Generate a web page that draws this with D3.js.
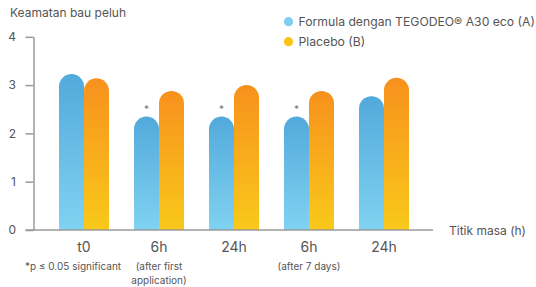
<!DOCTYPE html>
<html>
<head>
<meta charset="utf-8">
<script src="https://cdn.jsdelivr.net/npm/d3@7"></script>
<style>
  body { margin: 0; background: #fff; }
  svg { display: block; font-family: Inter, 'Noto Sans', sans-serif; }
</style>
</head>
<body>
<svg></svg>
<script>
const width = 536;
const height = 287;

// data
const categories = ['t0', '6h', '24h', '6h', '24h'];
const subLabels = [[], ['(after first', 'application)'], [], ['(after 7 days)'], []];
const seriesNames = ['Formula dengan TEGODEO® A30 eco (A)', 'Placebo (B)'];
const seriesA = [3.23, 2.35, 2.35, 2.35, 2.77];
const seriesB = [3.14, 2.88, 3.0, 2.88, 3.15];
const significant = [false, true, true, true, false];
const yTicks = [0, 1, 2, 3, 4];

const textColor = '#555';
const axisColor = '#9a9a9a';

const svg = d3.select('svg')
  .attr('width', width)
  .attr('height', height);

const defs = svg.append('defs');
const grads = [
  { id: 'gradA', top: '#52aadb', bottom: '#80d2f1' },
  { id: 'gradB', top: '#f7911d', bottom: '#f9c91a' }
];
grads.forEach((g) => {
  const lg = defs.append('linearGradient')
    .attr('id', g.id)
    .attr('x1', 0).attr('y1', 0)
    .attr('x2', 0).attr('y2', 1);
  lg.append('stop').attr('offset', '0%').attr('stop-color', g.top);
  lg.append('stop').attr('offset', '100%').attr('stop-color', g.bottom);
});

const y = d3.scaleLinear()
  .domain([0, 4])
  .range([230, 36.8]);

const x = d3.scaleBand()
  .domain(d3.range(categories.length))
  .range([46.5, 421.5])
  .paddingInner(1 / 3)
  .paddingOuter(1 / 6);

const sub = d3.scaleBand()
  .domain([0, 1])
  .range([0, x.bandwidth()]);

// y axis
const yAxis = svg.append('g')
  .attr('transform', 'translate(33.5,0)')
  .call(d3.axisLeft(y)
    .tickValues(yTicks)
    .tickFormat(d3.format('d'))
    .tickSize(8)
    .tickPadding(9.5)
    .tickSizeOuter(0));
yAxis.select('.domain').attr('stroke', axisColor).attr('stroke-width', 1.5);
yAxis.selectAll('.tick line').attr('stroke', axisColor).attr('stroke-width', 1.5);
yAxis.selectAll('.tick text')
  .attr('fill', textColor)
  .style('font-size', '12px')
  .style('font-family', 'Inter, sans-serif');

// bars with rounded tops
const barPath = (x0, w, yTop, yBase) => {
  const r = w / 2;
  return `M${x0},${yBase}V${yTop + r}A${r},${r} 0 0 1 ${x0 + w},${yTop + r}V${yBase}Z`;
};

const groups = svg.append('g')
  .selectAll('g')
  .data(categories.map((c, i) => ({ i, vals: [seriesA[i], seriesB[i]] })))
  .enter()
  .append('g')
  .attr('transform', (d) => `translate(${x(d.i)},0)`);

groups.selectAll('path')
  .data((d) => [1, 0].map((k) => ({ k, v: d.vals[k] })))
  .enter()
  .append('path')
  .attr('d', (d) => barPath(sub(d.k), sub.bandwidth(), y(d.v), y(0)))
  .attr('fill', (d) => `url(#${grads[d.k].id})`);

// significance marks
groups.filter((d) => significant[d.i])
  .append('text')
  .attr('x', sub(0) + sub.bandwidth() / 2)
  .attr('y', (d) => y(d.vals[0]) - 3)
  .attr('text-anchor', 'middle')
  .attr('fill', '#777')
  .style('font-size', '10px')
  .text('*');

// x axis line
svg.append('line')
  .attr('x1', 25.5).attr('x2', 433)
  .attr('y1', y(0)).attr('y2', y(0))
  .attr('stroke', axisColor)
  .attr('stroke-width', 1.5);

// category labels
svg.append('g')
  .selectAll('text')
  .data(categories)
  .enter()
  .append('text')
  .attr('x', (d, i) => x(i) + x.bandwidth() / 2)
  .attr('y', 252)
  .attr('text-anchor', 'middle')
  .attr('fill', textColor)
  .style('font-size', '14px')
  .text((d) => d);

svg.append('g')
  .selectAll('g')
  .data(subLabels)
  .enter()
  .append('g')
  .each(function (lines, i) {
    d3.select(this).selectAll('text')
      .data(lines)
      .enter()
      .append('text')
      .attr('x', x(i) + x.bandwidth() / 2)
      .attr('y', (d, j) => 270 + j * 13.5)
      .attr('text-anchor', 'middle')
      .attr('fill', textColor)
      .style('font-size', '10px')
      .text((d) => d);
  });

svg.append('text')
  .attr('x', 73)
  .attr('y', 270)
  .attr('text-anchor', 'middle')
  .attr('fill', textColor)
  .style('font-size', '10px')
  .text('*p ≤ 0.05 significant');

// axis titles
svg.append('text')
  .attr('x', 10)
  .attr('y', 17)
  .attr('fill', textColor)
  .style('font-size', '12px')
  .text('Keamatan bau peluh');

svg.append('text')
  .attr('x', 449)
  .attr('y', 234.5)
  .attr('fill', textColor)
  .style('font-size', '12px')
  .text('Titik masa (h)');

// legend
const legendColors = ['#7dcff1', '#fcc317'];
const legend = svg.append('g')
  .selectAll('g')
  .data(seriesNames)
  .enter()
  .append('g')
  .attr('transform', (d, i) => `translate(288.5,${21.7 + i * 20})`);
legend.append('circle')
  .attr('r', 4.6)
  .attr('fill', (d, i) => legendColors[i]);
legend.append('text')
  .attr('x', 10)
  .attr('y', 4.3)
  .attr('fill', textColor)
  .style('font-size', '12.2px')
  .text((d) => d);
</script>
</body>
</html>
